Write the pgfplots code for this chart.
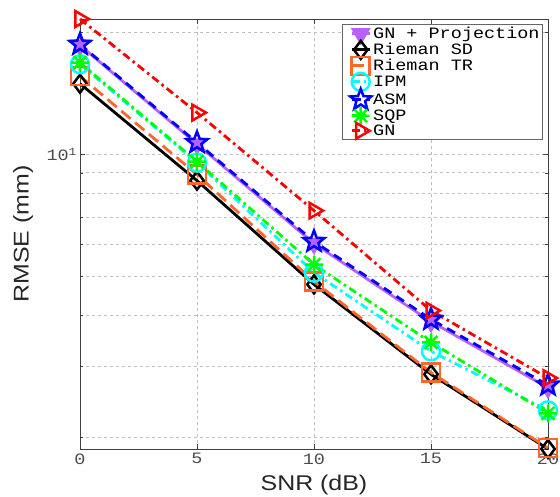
\documentclass[border=0pt]{standalone}
\usepackage{fontspec}
\setmainfont{Liberation Sans}[FakeStretch=1.17]
\setmonofont{Liberation Mono}[FakeStretch=1.17]
\usepackage{pgfplots}
\pgfplotsset{compat=1.18}
\usetikzlibrary{plotmarks}

\definecolor{cpurple}{rgb}{0.72,0.38,1.00}
\definecolor{corange}{rgb}{1.00,0.40,0.16}
\definecolor{ccyan}{rgb}{0.00,1.00,1.00}
\definecolor{cgreen}{rgb}{0.00,1.00,0.00}
\definecolor{gridgray}{rgb}{0.75,0.75,0.75}

% MATLAB-like pentagram (outline) and 8-spoke asterisk
\pgfdeclareplotmark{pentagram}{%
  \pgfpathmoveto{\pgfpointpolar{90}{\pgfplotmarksize}}%
  \foreach \k in {1,...,9}{%
    \pgfmathsetmacro\ang{90+36*\k}%
    \pgfmathsetmacro\rr{mod(\k,2)==1 ? 0.42 : 1}%
    \pgfpathlineto{\pgfpointpolar{\ang}{\rr\pgfplotmarksize}}}%
  \pgfpathclose\pgfusepathqstroke}
\pgfdeclareplotmark{matstar}{%
  \foreach \a in {0,45,90,135}{%
    \pgfpathmoveto{\pgfpointpolar{\a}{\pgfplotmarksize}}%
    \pgfpathlineto{\pgfpointpolar{\a+180}{\pgfplotmarksize}}}%
  \pgfusepathqstroke}

\begin{document}
\begin{tikzpicture}
\begin{semilogyaxis}[
  scale only axis, width=468pt, height=430pt,
  xmin=0, xmax=20, ymin=1.87, ymax=21.6,
  xtick={0,5,10,15,20},
  ytick={10}, yticklabels={10\raisebox{0.6ex}{\fontsize{11}{11}\selectfont 1}},
  minor ytick={2,3,4,5,6,7,8,9,20},
  grid=both,
  major grid style={gridgray,dashed,line width=0.8pt},
  minor grid style={gridgray,dashed,line width=0.8pt},
  tick align=inside, major tick length=5pt, minor tick length=3pt,
  tick style={black!75,line width=0.6pt},
  axis line style={black!75,line width=0.8pt},
  /pgf/number format/assume math mode=true,
  tick label style={font=\ttfamily\fontsize{15.8}{16}\selectfont,text=black!70},
  xticklabel style={yshift=-1pt},
  xlabel={SNR (dB)}, ylabel={RMSE (mm)},
  label style={font=\fontsize{21.3}{22}\selectfont,text=black!85},
  xlabel style={at={(axis description cs:0.5,0)}, anchor=center, yshift=-36pt},
  ylabel style={at={(axis description cs:-0.1218,0.5)}, anchor=center},
  clip=false,
  every axis plot/.append style={line width=2.8pt, mark size=9pt,
    mark options={solid,line width=2.5pt}},
  legend cell align=left,
  legend style={at={(axis description cs:1,1)}, anchor=north east,
    xshift=-5pt, yshift=-5pt,
    font=\ttfamily\fontsize{15.8}{16}\selectfont,
    draw=black!60, line width=0.8pt, fill=white,
    inner sep=1pt, row sep=-2pt},
  legend image code/.code={%
    \path (-7pt,0pt);
    \draw[mark repeat=2,mark phase=2,line width=2.8pt]
      plot coordinates {(0pt,0pt) (9pt,0pt) (18pt,0pt)};},
]
\addplot[cpurple, solid, mark=triangle*, mark options={fill=cpurple,rotate=180,line width=2.5pt}]
  coordinates {(0,18.6) (5,10.6) (10,6.02) (15,3.86) (20,2.65)};
\addlegendentry{GN + Projection}
\addplot[black, solid, mark=diamond]
  coordinates {(0,14.95) (5,8.61) (10,4.77) (15,2.86) (20,1.87)};
\addlegendentry{Rieman SD}
\addplot[corange, dash pattern=on 12pt off 6pt, mark=square]
  coordinates {(0,15.6) (5,8.91) (10,4.85) (15,2.89) (20,1.88)};
\addlegendentry{Rieman TR}
\addplot[ccyan, dash pattern=on 8pt off 4pt on 2.5pt off 4pt, mark=o]
  coordinates {(0,16.7) (5,9.54) (10,5.10) (15,3.26) (20,2.33)};
\addlegendentry{IPM}
\addplot[blue, dash pattern=on 9pt off 6pt, mark=pentagram, mark size=11pt]
  coordinates {(0,18.7) (5,10.69) (10,6.09) (15,3.91) (20,2.69)};
\addlegendentry{ASM}
\addplot[cgreen, dash pattern=on 8pt off 4pt on 2.5pt off 4pt, mark=matstar]
  coordinates {(0,16.85) (5,9.59) (10,5.34) (15,3.43) (20,2.29)};
\addlegendentry{SQP}
\addplot[red, dash pattern=on 8pt off 4pt on 2.5pt off 4pt, mark=triangle, mark options={solid,rotate=-90,line width=2.5pt}]
  coordinates {(0,21.6) (5,12.68) (10,7.26) (15,4.11) (20,2.80)};
\addlegendentry{GN}
\end{semilogyaxis}
\pgfresetboundingbox
\path (current axis.south west) ++(-80pt,-48pt) -- (current axis.north east) -- ++(12pt,19pt);
\end{tikzpicture}
\end{document}
